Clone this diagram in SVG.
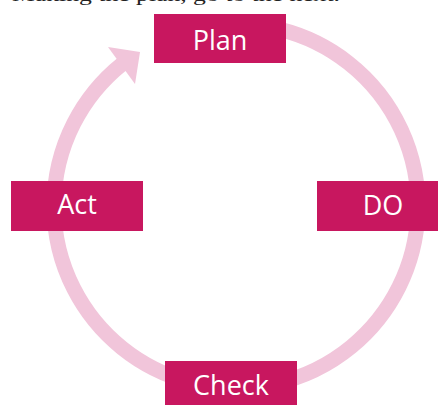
<svg xmlns="http://www.w3.org/2000/svg" width="438" height="405" viewBox="0 0 438 405">
  <style>
    .box { fill: #c8175f; }
    .lbl { fill: #ffffff; font-family: "Open Sans", "Noto Sans", sans-serif; font-size: 27px; text-anchor: middle; }
    .ring { fill: none; stroke: #f1c5da; stroke-width: 15; }
    .head { fill: #f1c5da; }
    .cap { fill: #222222; font-family: "Liberation Serif", serif; font-size: 19px; }
  </style>
  <rect x="0" y="0" width="438" height="405" fill="#ffffff"/>
  <text class="cap" x="12" y="0.8" textLength="328" lengthAdjust="spacingAndGlyphs">Making the plan, go to the next.</text>
  <g id="connectors">
    <path class="ring" d="M 280 29.4 A 182 182 0 1 1 122 64.1"/>
    <polygon class="head" points="140,52 108,47 135,84"/>
  </g>
  <g id="plan">
    <rect class="box" x="154" y="14" width="132" height="49"/>
    <text class="lbl" x="220" y="50">Plan</text>
  </g>
  <g id="do">
    <rect class="box" x="317" y="181" width="132" height="50"/>
    <text class="lbl" x="383" y="215">DO</text>
  </g>
  <g id="check">
    <rect class="box" x="165" y="361" width="132" height="50"/>
    <text class="lbl" x="231" y="395">Check</text>
  </g>
  <g id="act">
    <rect class="box" x="11" y="181" width="132" height="50"/>
    <text class="lbl" x="77" y="214">Act</text>
  </g>
</svg>
